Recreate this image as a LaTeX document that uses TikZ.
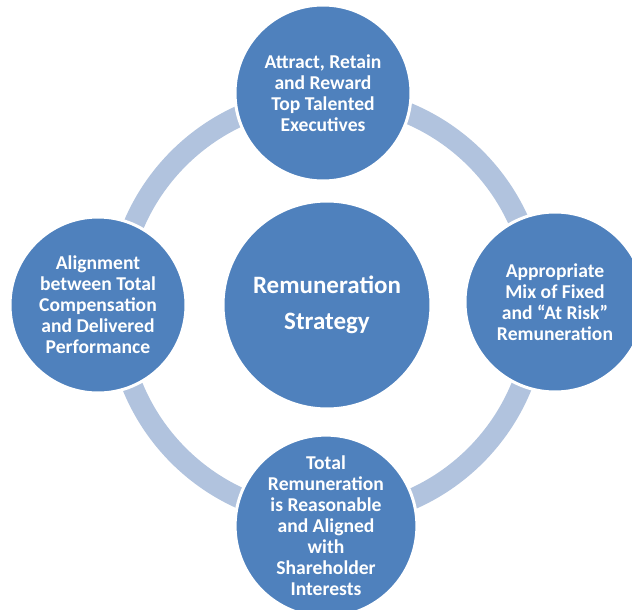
\documentclass[tikz,border=0pt]{standalone}
\usepackage{fontspec}
\setmainfont{Carlito}
\definecolor{nodeblue}{HTML}{4F81BD}
\definecolor{ringblue}{HTML}{B1C3DE}
\tikzset{
  bubble/.style={circle, fill=nodeblue, draw=white, line width=3pt, inner sep=0pt,
    text=white, align=center, font=\bfseries\fontsize{19.6}{21}\selectfont},
  hub/.style={bubble, font=\bfseries\fontsize{25}{36}\selectfont},
  ringband/.style={draw=ringblue, line width=21pt}
}
\begin{document}
\begin{tikzpicture}[x=1pt,y=-1pt]
\useasboundingbox (0,0) rectangle (632,610);
\clip (0,0) rectangle (632,610);
\coordinate (c) at (327,307);
\draw[ringband] (c) circle (210);
\node[hub, minimum size=208pt] (hubnode) at (327,305) {Remuneration\\Strategy};
\node[bubble, minimum size=176pt] (top) at (323,93) {Attract, Retain\\and Reward\\Top Talented\\Executives};
\node[bubble, minimum size=176pt] (left) at (98,305) {Alignment\\between Total\\Compensation\\and Delivered\\Performance};
\node[bubble, minimum size=180pt] (right) at (555,302) {Appropriate\\Mix of Fixed\\and “At Risk”\\Remuneration};
\node[bubble, minimum size=176pt] (bottom) at (326,526) {Total\\Remuneration\\is Reasonable\\and Aligned\\with\\Shareholder\\Interests};
\end{tikzpicture}
\end{document}
